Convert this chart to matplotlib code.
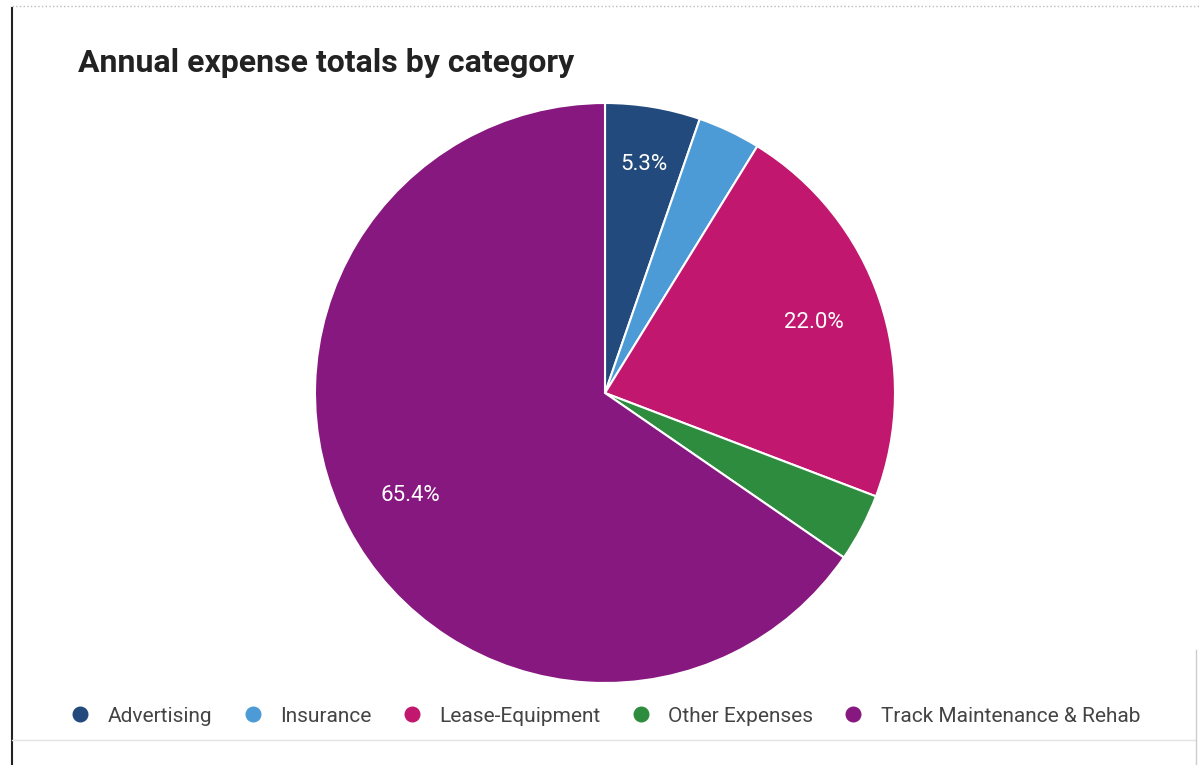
import numpy as np
import matplotlib.pyplot as plt
from matplotlib.lines import Line2D

categories = ["Advertising", "Insurance", "Lease-Equipment", "Other Expenses",
              "Track Maintenance & Rehab"]
shares = [5.3, 3.5, 22.0, 3.8, 65.4]
colors = ["#234a7c", "#4d9bd6", "#c2176e", "#2e8c3f", "#87187f"]

plt.rcParams['font.family'] = ['Roboto', 'DejaVu Sans']

fig = plt.figure(figsize=(12.01, 7.65), dpi=100)
fig.patch.set_facecolor("white")

# pie centre ~ (605, 393) px, radius ~ 290 px
W, H = 1201, 765
cx, cy, r = 605, 393, 290
ax = fig.add_axes([(cx - r) / W, (H - cy - r) / H, 2 * r / W, 2 * r / H])


def pct(p):
    return f"{p:.1f}%" if p >= 5 else ""


wedges, texts, autotexts = ax.pie(
    shares, colors=colors, startangle=90, counterclock=False,
    autopct=pct, pctdistance=0.76,
    wedgeprops=dict(edgecolor="white", linewidth=1.5),
    textprops=dict(color="white", fontsize=16),
)
# the small top slice label sits a little further out
w = wedges[0]
mid = np.deg2rad((w.theta1 + w.theta2) / 2)
autotexts[0].set_position((0.8 * np.cos(mid), 0.8 * np.sin(mid)))

ax.set_xlim(-1, 1)
ax.set_ylim(-1, 1)
ax.set_aspect("equal")
ax.axis("off")

fig.text(78 / W, 1 - 63 / H, "Annual expense totals by category",
         fontsize=23, fontweight="semibold", color="#222222", va="center")

handles = [Line2D([], [], marker="o", linestyle="", markersize=10.5,
                  markerfacecolor=c, markeredgecolor=c) for c in colors]
fig.legend(handles, categories, loc="center", bbox_to_anchor=(605 / W, 1 - 716 / H),
           ncol=5, frameon=False, fontsize=15, handlelength=1.0,
           handletextpad=0.8, columnspacing=1.45, labelcolor="#444444")

# frame lines of the printed card
fig.add_artist(Line2D([12 / W, 12 / W], [0, 1 - 8 / H], color="#222222", linewidth=1.5))
fig.add_artist(Line2D([12 / W, 1], [1 - 6 / H, 1 - 6 / H], color="#bbbbbb",
                      linewidth=1, linestyle=":"))
fig.add_artist(Line2D([12 / W, 1195 / W], [1 - 740 / H, 1 - 740 / H],
                      color="#e4e4e4", linewidth=1))
fig.add_artist(Line2D([1196 / W, 1196 / W], [0, 1 - 650 / H], color="#cccccc",
                      linewidth=1))

fig.savefig("out.png", dpi=100)
